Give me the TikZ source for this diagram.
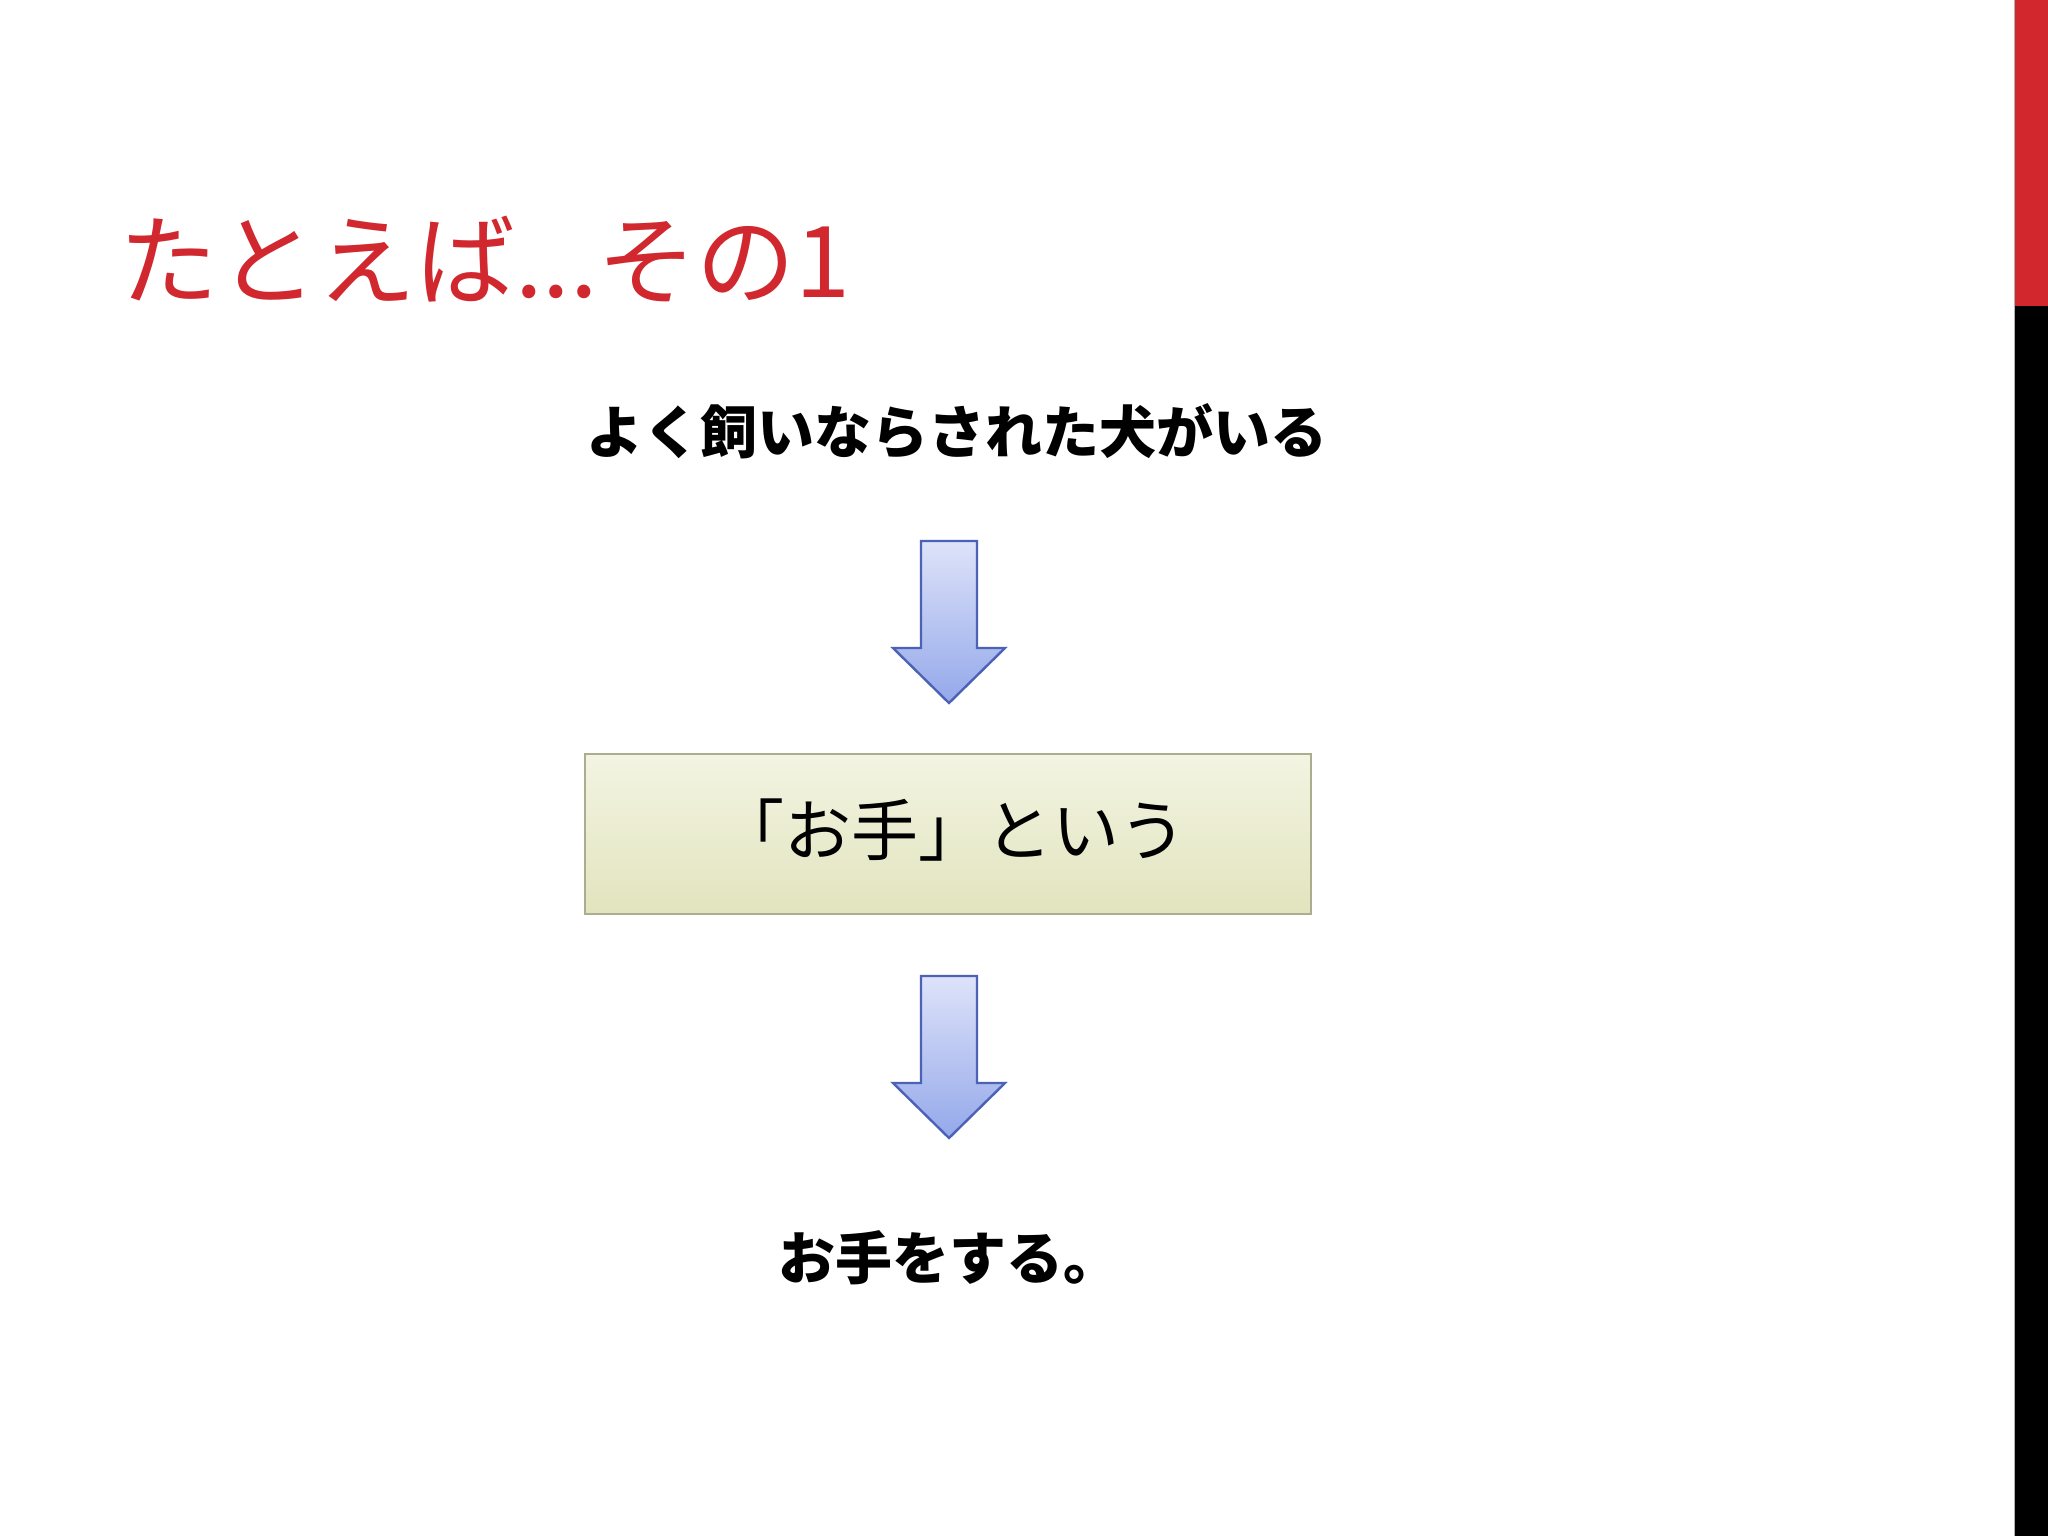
\documentclass[tikz,border=0pt]{standalone}
\usepackage{fontspec}
\newfontfamily\jp{Noto Sans CJK JP}
\definecolor{titlered}{RGB}{208,40,46}
\definecolor{barred}{RGB}{210,40,45}
\definecolor{arrowline}{RGB}{75,98,182}
\definecolor{arrowtop}{RGB}{222,227,249}
\definecolor{arrowbot}{RGB}{148,168,234}
\definecolor{boxline}{RGB}{172,172,142}
\definecolor{boxtop}{RGB}{243,244,226}
\definecolor{boxbot}{RGB}{226,228,190}
\tikzset{
  blockarrow/.pic={
    \path[draw=arrowline,line width=2.4pt,line join=miter,top color=arrowtop,bottom color=arrowbot]
      (-28,0) -- (28,0) -- (28,107) -- (56,107) -- (0,162) -- (-56,107) -- (-28,107) -- cycle;
  },
  boldtext/.style={font=\jp\bfseries\fontsize{57}{61}\selectfont, inner sep=0},
}
\begin{document}
\begin{tikzpicture}[x=1pt,y=-1pt]
\useasboundingbox[fill=white] (0,0) rectangle (2048,1536);
% side bars
\fill[barred] (2015,0) rectangle (2048,306);
\fill[black] (2015,306) rectangle (2048,1536);
\draw[gray!60,line width=0.8pt] (2014.5,0) -- (2014.5,1536);
% title
\node[anchor=west, inner sep=0, text=titlered, font=\jp\fontsize{99}{103}\selectfont] (title) at (119,259) {たとえば...その1};
% texts
\node[boldtext] (t1) at (957,431) {よく飼いならされた犬がいる};
\pic at (949,541) {blockarrow};
\node[draw=boxline, line width=2pt, top color=boxtop, bottom color=boxbot, minimum width=726, minimum height=160, inner sep=0] (box) at (948,834) {};
\node[inner sep=0, font=\jp\fontsize{67}{71}\selectfont] (boxtext) at (952,830) {「お手」という};
\pic at (949,976) {blockarrow};
\node[boldtext] (t2) at (949,1258) {お手をする。};
\end{tikzpicture}
\end{document}
